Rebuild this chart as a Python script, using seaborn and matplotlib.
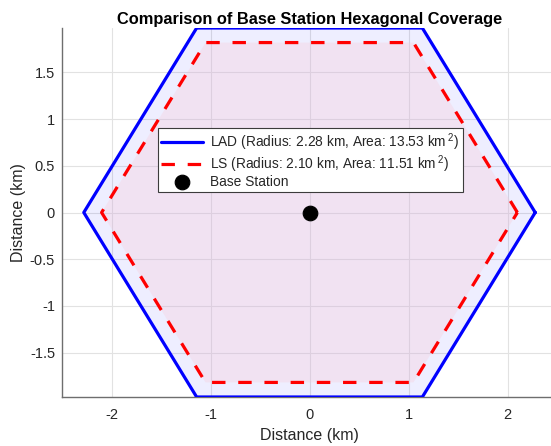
import numpy as np
import pandas as pd
import matplotlib
matplotlib.use("Agg")
import matplotlib.pyplot as plt
import seaborn as sns

# Cell radii (km) and reported coverage areas (km^2)
methods = ["LAD", "LS"]
radii = [2.28, 2.10]
areas = [13.53, 11.51]
line_colors = ["#0000ff", "#ff0000"]
fill_colors = ["#0000ff", "#f8c9d7"]
fill_alphas = [0.065, 0.3]
line_styles = ["-", (0, (4.2, 4.0))]

station_x = [0.0]
station_y = [0.0]

x_ticks = [-2, -1, 0, 1, 2]
y_ticks = [-1.5, -1, -0.5, 0, 0.5, 1, 1.5]


def hexagon(r):
    ang = np.deg2rad(np.arange(0, 361, 60))
    return pd.DataFrame({"x": r * np.cos(ang), "y": r * np.sin(ang)})


sns.set_style("white")
plt.rcParams["font.family"] = ["Liberation Sans", "DejaVu Sans"]
plt.rcParams["mathtext.fontset"] = "custom"
plt.rcParams["mathtext.rm"] = "Liberation Sans"

fig = plt.figure(figsize=(5.51, 4.46), dpi=100)
ax = fig.add_axes([62 / 551, 49 / 446, 495 / 551, 369 / 446])

for name, r, a, lc, fc, fa, ls in zip(methods, radii, areas, line_colors, fill_colors, fill_alphas, line_styles):
    hx = hexagon(r)
    ax.fill(hx["x"], hx["y"], color=fc, alpha=fa, lw=0, zorder=1)
    sns.lineplot(data=hx, x="x", y="y", sort=False, estimator=None, ax=ax,
                 color=lc, lw=2.3, linestyle=ls, zorder=3,
                 label=f"{name} (Radius: {r:.2f} km, Area: {a:.2f} km$\\,^{{2}}$)")

sns.scatterplot(x=station_x, y=station_y, ax=ax, color="black", s=110,
                edgecolor="black", zorder=4, label="Base Station")

R = max(radii)
ax.set_xlim(-2.5, 2.5)
ax.set_ylim(-R * np.sqrt(3) / 2, R * np.sqrt(3) / 2)
ax.set_xticks(x_ticks)
ax.set_yticks(y_ticks)
ax.set_xticklabels([f"{t:g}" for t in x_ticks])
ax.set_yticklabels([f"{t:g}" for t in y_ticks])
ax.grid(True, color="#e2e2e2", lw=0.8)
ax.set_axisbelow(True)
for s in ["top", "right"]:
    ax.spines[s].set_visible(False)
for s in ["left", "bottom"]:
    ax.spines[s].set_color("#6e6e6e")
    ax.spines[s].set_linewidth(1.0)
ax.tick_params(direction="in", length=4, width=0.8, color="#6e6e6e",
               labelsize=10.5, labelcolor="#262626")
ax.tick_params(axis="x", pad=8)
ax.tick_params(axis="y", pad=5)

ax.set_xlabel("Distance (km)", fontsize=11.5, color="#262626", labelpad=4)
ax.set_ylabel("Distance (km)", fontsize=11.5, color="#262626", labelpad=3)
ax.set_title("Comparison of Base Station Hexagonal Coverage", fontsize=11.8,
             fontweight="bold", color="black", pad=3)

leg = ax.legend(loc="upper left", bbox_to_anchor=(0.194, 0.729), fontsize=9.9,
                frameon=True, fancybox=False, framealpha=1, edgecolor="#3c3c3c",
                borderaxespad=0, handlelength=3.0, handletextpad=0.55,
                borderpad=0.25, labelspacing=0.0)
leg.get_frame().set_linewidth(0.8)

fig.savefig("out.png", dpi=100)
